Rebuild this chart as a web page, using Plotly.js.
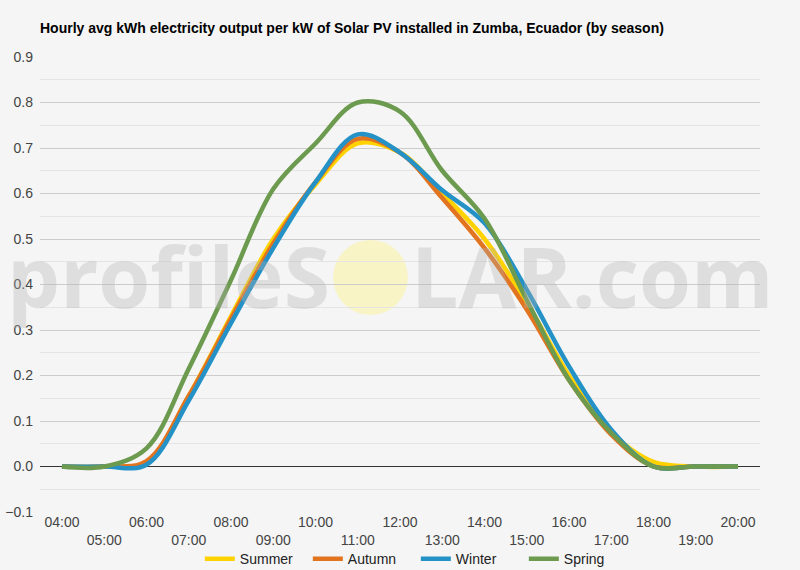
<!DOCTYPE html>
<html>
<head>
<meta charset="utf-8">
<script src="https://cdn.plot.ly/plotly-3.0.1.min.js"></script>
<style>
  html, body { margin: 0; padding: 0; background: #f5f5f5; }
  #myPlot { width: 800px; height: 570px; }
</style>
</head>
<body>
<div id="myPlot"></div>
<script>
// hourly values
var hours = ["04:00", "05:00", "06:00", "07:00", "08:00", "09:00", "10:00", "11:00", "12:00",
             "13:00", "14:00", "15:00", "16:00", "17:00", "18:00", "19:00", "20:00"];
var summer = [0, 0, 0.01, 0.155, 0.33, 0.50, 0.62, 0.71, 0.69, 0.60, 0.50, 0.36, 0.20, 0.075, 0.01, 0, 0];
var autumn = [0, 0, 0.012, 0.155, 0.325, 0.49, 0.625, 0.72, 0.69, 0.59, 0.48, 0.345, 0.19, 0.07, 0, 0, 0];
var winter = [0, 0, 0.004, 0.145, 0.315, 0.48, 0.625, 0.73, 0.69, 0.607, 0.535, 0.388, 0.22, 0.081, 0, 0, 0];
var spring = [0, 0, 0.04, 0.215, 0.41, 0.61, 0.71, 0.80, 0.78, 0.65, 0.545, 0.366, 0.19, 0.074, 0, 0, 0];

var seasons = ["Summer", "Autumn", "Winter", "Spring"];
var colors = ["#FFD200", "#E2731F", "#2492C7", "#6C9A4E"];
var series = [summer, autumn, winter, spring];

// alternate tick labels on two rows
var tickText = hours.map(function (h, i) {
  return i % 2 === 0 ? h : "<br>" + h;
});

var data = [];
for (var s = 0; s < seasons.length; s++) {
  data.push({
    x: hours,
    y: series[s],
    name: seasons[s],
    mode: "lines",
    line: { color: colors[s], width: 4.5, shape: "spline", smoothing: 1 },
    hoverinfo: "x+y+name"
  });
}

var wmFont = { family: "Open Sans, sans-serif", size: 84, color: "rgba(175,175,175,0.33)" };

var layout = {
  width: 800,
  height: 570,
  paper_bgcolor: "#f5f5f5",
  plot_bgcolor: "#f5f5f5",
  margin: { l: 40, r: 40, t: 57, b: 58, autoexpand: false },
  font: { family: "Liberation Sans, Arial, sans-serif", size: 14, color: "#444" },
  title: {
    text: "<b>Hourly avg kWh electricity output per kW of Solar PV installed in Zumba, Ecuador (by season)</b>",
    font: { size: 14, color: "#000" },
    x: 0.05,
    xanchor: "left",
    y: 0.951,
    yanchor: "middle"
  },
  xaxis: {
    type: "category",
    range: [-0.52, 16.52],
    tickvals: hours,
    ticktext: tickText,
    showgrid: false,
    zeroline: false,
    showline: false,
    automargin: false,
    ticks: "",
    tickfont: { size: 14, color: "#444" }
  },
  yaxis: {
    range: [-0.1, 0.9],
    dtick: 0.1,
    tickformat: ".1f",
    gridcolor: "#cccccc",
    gridwidth: 1,
    zeroline: true,
    zerolinecolor: "#333",
    zerolinewidth: 1,
    automargin: false,
    ticklabelstandoff: 6,
    minor: { dtick: 0.05, showgrid: true, gridcolor: "#e4e4e4", gridwidth: 1 },
    ticks: "",
    tickfont: { size: 14, color: "#444" }
  },
  legend: {
    orientation: "h",
    x: 0.522,
    xanchor: "center",
    yref: "container",
    y: 0.047,
    yanchor: "top",
    font: { size: 14, color: "#222" },
    itemwidth: 30,
    entrywidth: 63,
    entrywidthmode: "pixels",
    bgcolor: "rgba(0,0,0,0)"
  },
  shapes: [
    {
      type: "circle",
      xref: "paper",
      yref: "paper",
      x0: 0.407, x1: 0.511,
      y0: 0.433, y1: 0.598,
      fillcolor: "#f8f4c6",
      line: { width: 0 },
      layer: "below"
    }
  ],
  annotations: [
    {
      text: "<b>profileS</b>",
      xref: "paper", yref: "paper",
      x: 0.405, y: 0.52,
      xanchor: "right", yanchor: "middle",
      showarrow: false,
      font: wmFont
    },
    {
      text: "<b>LAR.com</b>",
      xref: "paper", yref: "paper",
      x: 0.513, y: 0.52,
      xanchor: "left", yanchor: "middle",
      showarrow: false,
      font: wmFont
    }
  ]
};

Plotly.newPlot("myPlot", data, layout, { displayModeBar: false });
</script>
</body>
</html>
